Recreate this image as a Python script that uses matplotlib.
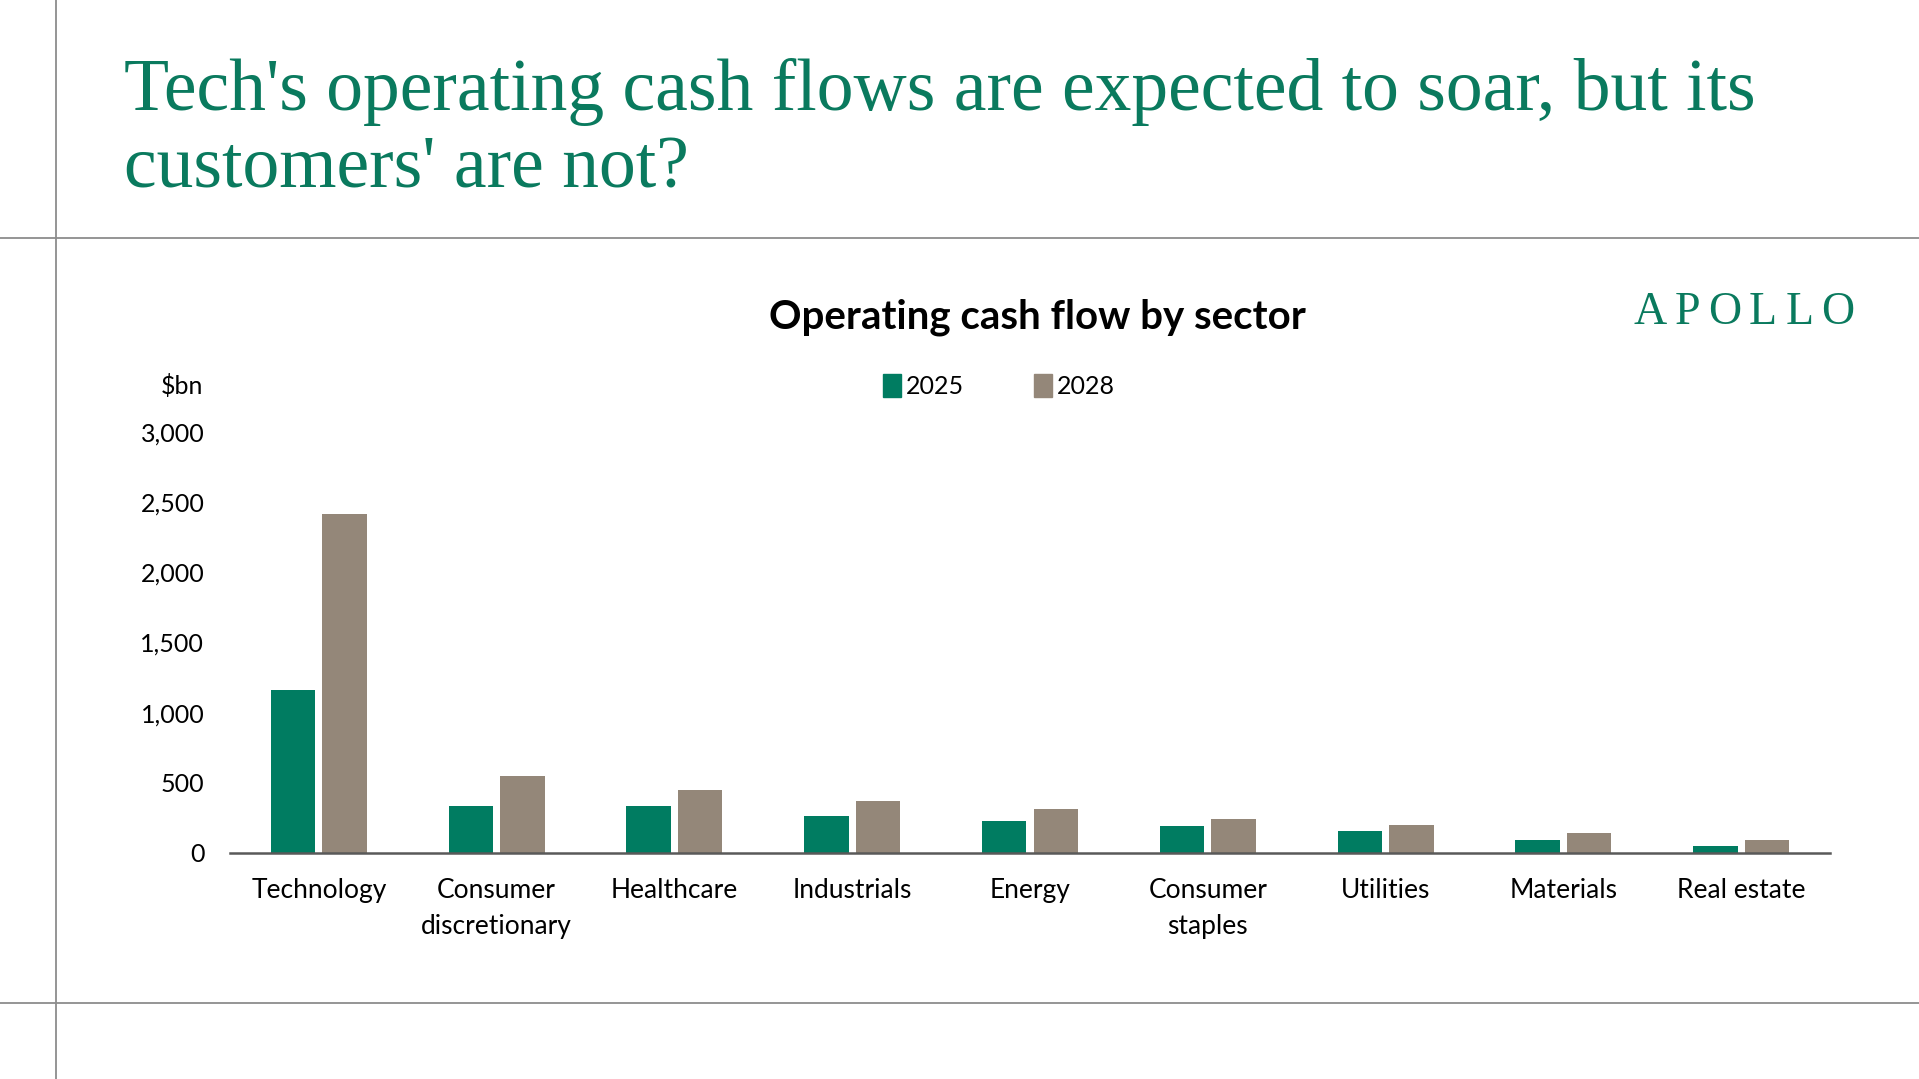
import numpy as np
import matplotlib.pyplot as plt
from matplotlib.lines import Line2D
from matplotlib.patches import Patch

sectors = ['Technology', 'Consumer\ndiscretionary', 'Healthcare', 'Industrials', 'Energy',
           'Consumer\nstaples', 'Utilities', 'Materials', 'Real estate']
ocf_2025 = [1162, 333, 333, 262, 226, 190, 160, 90, 48]
ocf_2028 = [2419, 548, 448, 369, 313, 242, 203, 140, 90]
yticks = [0, 500, 1000, 1500, 2000, 2500, 3000]

green = '#007C61'
taupe = '#948779'
title_green = '#0A7A5E'

fig = plt.figure(figsize=(19.19, 10.79), dpi=100)
fig.patch.set_facecolor('white')

# frame lines of the slide
fig.add_artist(Line2D([0, 1], [1 - 237.5/1079]*2, color='#8c8c8c', lw=1.3))
fig.add_artist(Line2D([0, 1], [1 - 1002.5/1079]*2, color='#8c8c8c', lw=1.3))
fig.add_artist(Line2D([56/1919]*2, [0, 1], color='#8c8c8c', lw=1.3))

fig.text(124/1919, 1 - 110/1079, "Tech's operating cash flows are expected to soar, but its",
         family='Liberation Serif', fontsize=53, color=title_green, va='baseline')
fig.text(124/1919, 1 - 187/1079, "customers' are not?",
         family='Liberation Serif', fontsize=53, color=title_green, va='baseline')

# logo
for i, ch in enumerate('APOLLO'):
    fig.text((1650 + i*37.5)/1919, 1 - 324/1079, ch, family='Liberation Serif',
             fontsize=33, color=title_green, ha='center', va='baseline')

fig.text(1037/1919, 1 - 317/1079, 'Operating cash flow by sector', family='Lato',
         fontweight='bold', fontsize=29, color='black', ha='center', va='center')

ax = fig.add_axes([230/1919, 1 - 853/1079, 1600/1919, 421/1079])
x = np.arange(len(sectors))
w = 0.25
ax.bar(x - 0.145, ocf_2025, w, color=green, label='2025')
ax.bar(x + 0.145, ocf_2028, w, color=taupe, label='2028')
ax.set_xlim(-0.5, len(sectors) - 0.5)
ax.set_ylim(0, 3000)
ax.set_yticks(yticks)
ax.set_yticklabels([f'{v:,}' for v in yticks], family='Lato', fontsize=18)
ax.set_xticks(x)
ax.set_xticklabels(sectors, family='Lato', fontsize=19, linespacing=1.55)
ax.tick_params(axis='y', length=0, pad=18.5)
ax.tick_params(axis='x', length=0, pad=18)
for s in ['top', 'right', 'left']:
    ax.spines[s].set_visible(False)
ax.spines['bottom'].set_color('#595959')
ax.spines['bottom'].set_linewidth(1.8)

fig.text(203/1919, 1 - 386/1079, '$bn', family='Lato', fontsize=18, ha='right', va='center')

handles = [Patch(color=green, label='2025'), Patch(color=taupe, label='2028')]
fig.legend(handles=handles, loc='center', bbox_to_anchor=(999/1919, 1 - 386/1079), ncol=2,
           frameon=False, prop={'family': 'Lato', 'size': 18}, handlelength=0.7,
           handleheight=1.0, handletextpad=0.2, columnspacing=2.8)

fig.savefig('out.png', dpi=100, facecolor='white')
